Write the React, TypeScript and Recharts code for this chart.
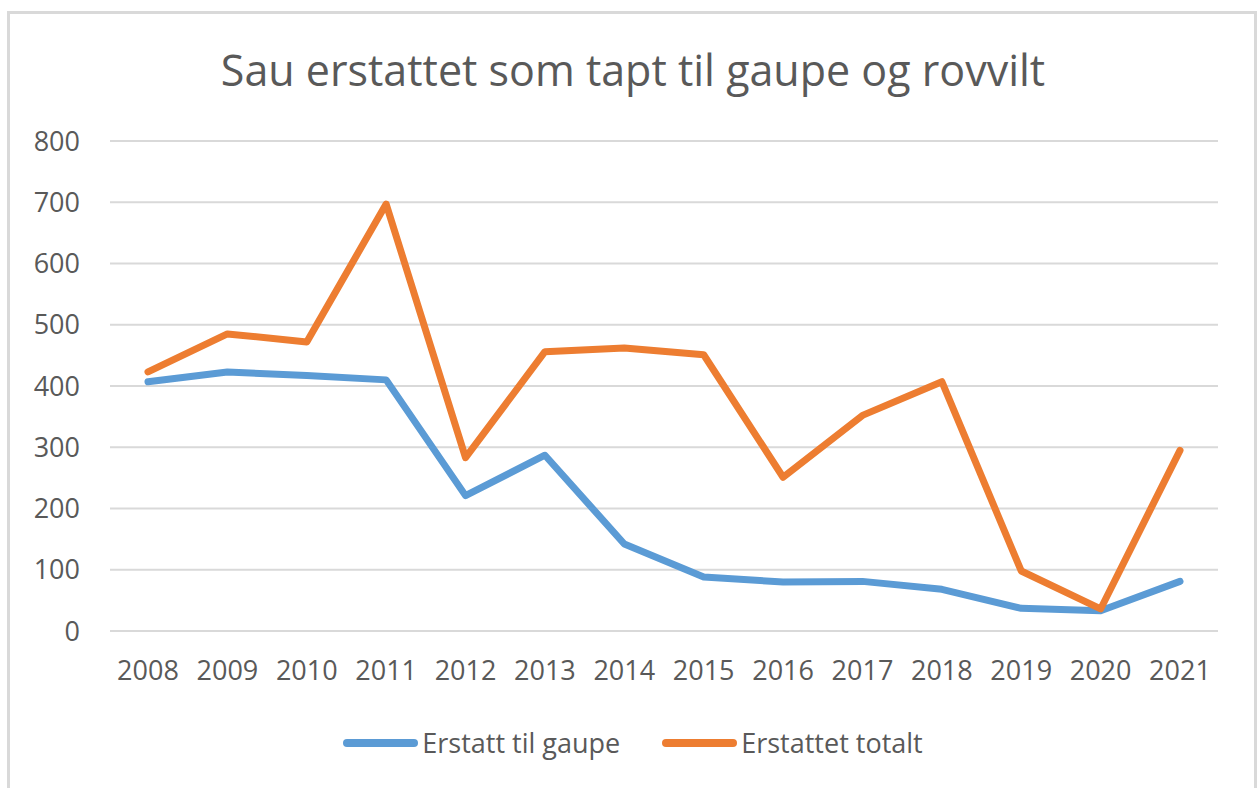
import { LineChart, Line, XAxis, YAxis, CartesianGrid } from 'recharts';

const years = ['2008', '2009', '2010', '2011', '2012', '2013', '2014', '2015', '2016', '2017', '2018', '2019', '2020', '2021'];
const gaupe = [407, 423, 417, 410, 221, 287, 142, 88, 80, 81, 68, 37, 33, 81];
const totalt = [423, 485, 472, 697, 283, 456, 462, 451, 251, 352, 407, 98, 36, 295];
const yTicks = [0, 100, 200, 300, 400, 500, 600, 700, 800];

const BLUE = '#5B9BD5';
const ORANGE = '#ED7D31';
const TEXT = '#595959';
const FONT = '"Open Sans", sans-serif';

const data = years.map((y, i) => ({ year: y, gaupe: gaupe[i], totalt: totalt[i] }));

const series = [
  { key: 'gaupe', name: 'Erstatt til gaupe', color: BLUE },
  { key: 'totalt', name: 'Erstattet totalt', color: ORANGE },
];

const App = () => {
  return (
    <div style={{ position: 'absolute', left: 0, top: 0, width: 1258, height: 788, background: '#fff', overflow: 'hidden' }}>
      <div style={{ position: 'absolute', left: 7, top: 11, width: 1244, height: 800, border: '3px solid #d9d9d9' }} />
      <div style={{ position: 'absolute', top: 40, left: 0, width: 1266, textAlign: 'center', fontFamily: FONT, fontSize: 43, color: TEXT }}>
        Sau erstattet som tapt til gaupe og rovvilt
      </div>
      <div style={{ position: 'absolute', left: 0, top: 0 }}>
        <LineChart width={1258} height={788} data={data} margin={{ top: 141, right: 40, bottom: 127, left: 0 }}>
          <CartesianGrid vertical={false} stroke="#d9d9d9" strokeWidth={2} />
          <XAxis
            dataKey="year"
            height={30}
            padding={{ left: 38, right: 38 }}
            tickLine={false}
            tickSize={0}
            tickMargin={30}
            axisLine={{ stroke: '#d9d9d9', strokeWidth: 2 }}
            tick={{ fill: TEXT, fontSize: 27, fontFamily: FONT }}
            interval={0}
          />
          <YAxis
            width={110}
            domain={[0, 800]}
            ticks={yTicks}
            tickLine={false}
            tickSize={0}
            tickMargin={30}
            axisLine={false}
            tick={{ fill: TEXT, fontSize: 27, fontFamily: FONT }}
          />
          {series.map((s) => (
            <Line
              key={s.key}
              type="linear"
              dataKey={s.key}
              name={s.name}
              stroke={s.color}
              strokeWidth={7}
              strokeLinecap="round"
              strokeLinejoin="round"
              dot={false}
              activeDot={false}
              isAnimationActive={false}
            />
          ))}
        </LineChart>
      </div>
      <div style={{ position: 'absolute', top: 724, left: 0, width: 1266, display: 'flex', justifyContent: 'center', alignItems: 'center', gap: 42, fontFamily: FONT, fontSize: 27, color: TEXT }}>
        {series.map((s) => (
          <div key={s.key} style={{ display: 'flex', alignItems: 'center' }}>
            <span style={{ display: 'inline-block', width: 75, height: 8, borderRadius: 4, background: s.color, marginRight: 4 }} />
            <span>{s.name}</span>
          </div>
        ))}
      </div>
    </div>
  );
};

export default App;
